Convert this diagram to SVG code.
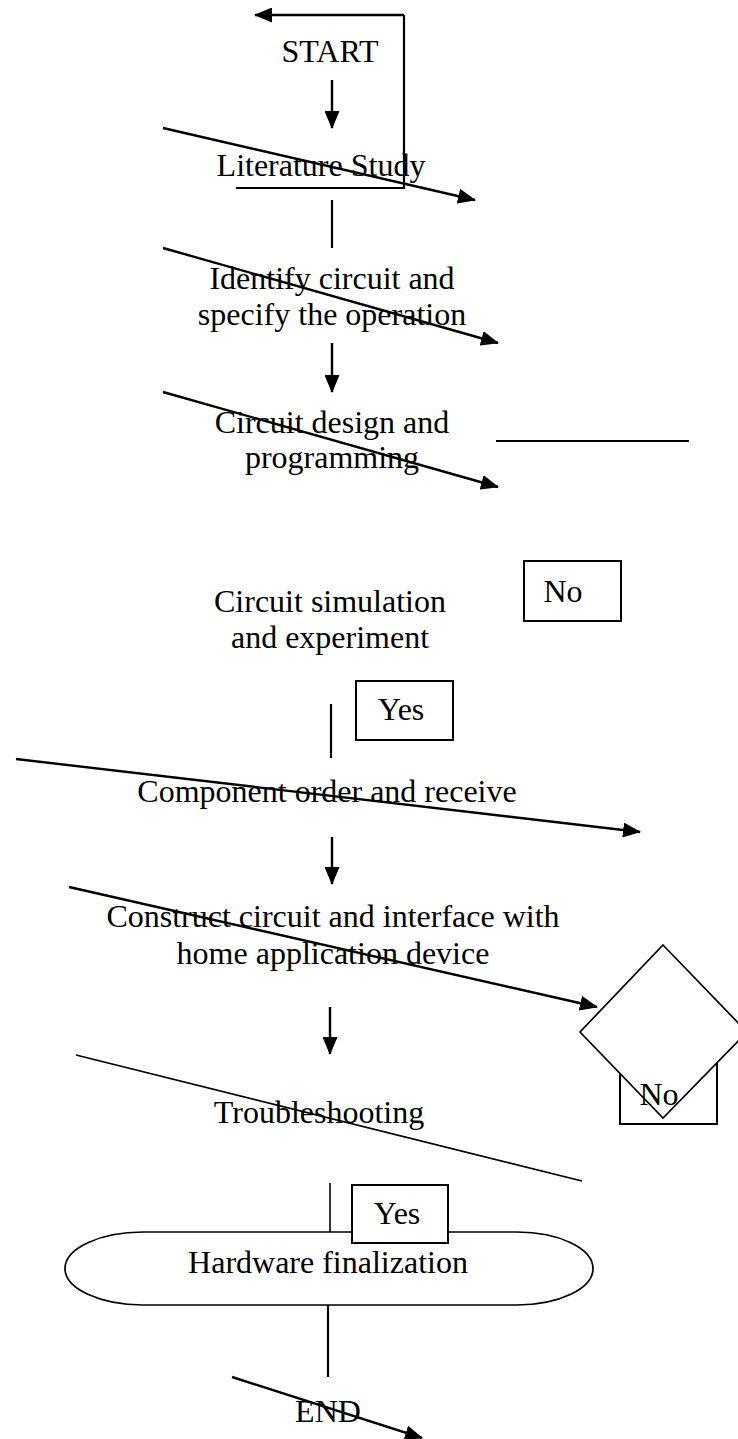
<svg xmlns="http://www.w3.org/2000/svg" width="738" height="1439" viewBox="0 0 738 1439">
<style>
text{font-family:"Liberation Serif","Times New Roman",serif;font-size:32px;fill:#000;text-anchor:middle}
.ln{stroke:#000;stroke-width:2.2;fill:none}
.thin{stroke:#000;stroke-width:1.6;fill:none}
.arr{stroke:#000;stroke-width:2.4;fill:none;marker-end:url(#ah)}
.box{stroke:#000;stroke-width:2;fill:#fff}
.shape{stroke:#000;stroke-width:1.7;fill:#fff}
</style>
<defs>
<marker id="ah" markerUnits="userSpaceOnUse" markerWidth="18" markerHeight="15" refX="17" refY="7.5" orient="auto">
<path d="M0,0 L18,7.5 L0,15 Z" fill="#000"/>
</marker>
</defs>
<rect width="738" height="1439" fill="#fff"/>
<g id="connectors">
<line class="arr" x1="404" y1="15" x2="255" y2="15"/>
<line class="ln" x1="404" y1="15" x2="404" y2="188"/>
<line class="ln" x1="236" y1="188" x2="405" y2="188"/>
<line class="arr" x1="332" y1="80" x2="332" y2="128"/>
<line class="arr" x1="163" y1="128" x2="475" y2="200"/>
<line class="ln" x1="332" y1="200" x2="332" y2="248"/>
<line class="arr" x1="163" y1="248" x2="498" y2="343"/>
<line class="arr" x1="332" y1="343" x2="332" y2="392"/>
<line class="arr" x1="163" y1="392" x2="498" y2="487"/>
<line class="ln" x1="496" y1="441" x2="689" y2="441"/>
<line class="ln" x1="331" y1="704" x2="331" y2="758"/>
<line class="arr" x1="16" y1="759" x2="640" y2="832"/>
<line class="arr" x1="332" y1="837" x2="332" y2="884"/>
<line class="arr" x1="69" y1="887" x2="597" y2="1007"/>
<line class="arr" x1="330" y1="1007" x2="330" y2="1054"/>
<line class="thin" x1="76" y1="1055" x2="582" y2="1181"/>
<line class="thin" x1="330" y1="1183" x2="330" y2="1232"/>
<line class="ln" x1="328" y1="1305" x2="328" y2="1377"/>
<line class="arr" x1="232" y1="1377" x2="422" y2="1438"/>
</g>
<g id="start"><text x="330" y="62">START</text></g>
<g id="literature"><text x="321" y="176">Literature Study</text></g>
<g id="identify"><text x="332" y="289">Identify circuit and</text><text x="332" y="325">specify the operation</text></g>
<g id="design"><text x="332" y="433">Circuit design and</text><text x="332" y="468">programming</text></g>
<g id="no1"><rect class="box" x="524" y="561" width="97" height="60"/><text x="563" y="602">No</text></g>
<g id="simulation"><text x="330" y="612">Circuit simulation</text><text x="330" y="648">and experiment</text></g>
<g id="yes1"><rect class="box" x="356" y="681" width="97" height="59"/><text x="401" y="720">Yes</text></g>
<g id="component"><text x="327" y="802">Component order and receive</text></g>
<g id="construct"><text x="333" y="927">Construct circuit and interface with</text><text x="333" y="964">home application device</text></g>
<g id="no2"><rect class="box" x="620" y="1062" width="97" height="62"/></g>
<g id="decision"><polygon class="shape" points="663,945 747,1032 663,1118 580,1032"/><text x="659" y="1105">No</text></g>
<g id="troubleshooting"><text x="319" y="1123">Troubleshooting</text></g>
<g id="hardware"><path class="shape" d="M143,1232 H517 A76,36.5 0 0 1 517,1305 H143 A78,36.5 0 0 1 143,1232 Z"/><text x="328" y="1273">Hardware finalization</text></g>
<g id="yes2"><rect class="box" x="352" y="1185" width="96" height="58"/><text x="397" y="1224">Yes</text></g>
<g id="end"><text x="328" y="1422">END</text></g>
</svg>
